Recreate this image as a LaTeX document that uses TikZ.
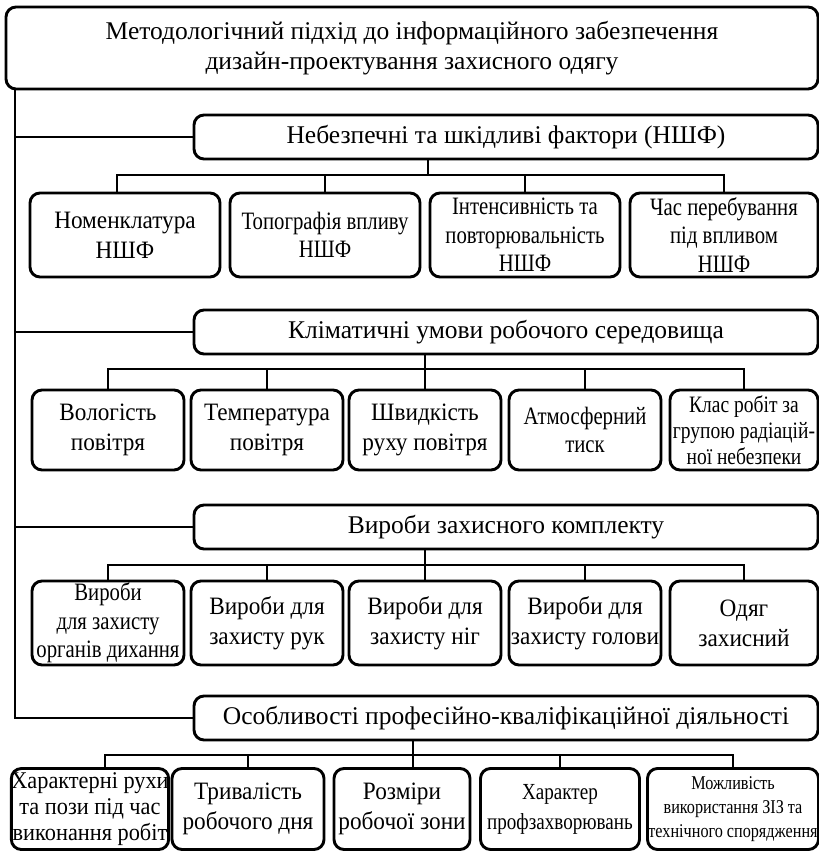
\documentclass[tikz,border=0pt]{standalone}
\usepackage{fontspec}
\setmainfont{Liberation Serif}
\newfontfamily\leaffont{Liberation Serif}[FakeStretch=0.93]
\newfontfamily\narrowfont{Liberation Serif}[FakeStretch=0.83]
\begin{document}
\begin{tikzpicture}[x=1pt,y=-1pt,
  box/.style={draw,rounded corners=10pt,line width=2.9pt,align=center,inner sep=0pt,
    font=\leaffont\fontsize{25}{30}\selectfont},
  head/.style={box,minimum width=624pt,minimum height=44pt,font=\fontsize{25.5}{30}\selectfont},
  row1/.style={box,minimum width=190pt,minimum height=84pt},
  row2/.style={box,minimum width=152pt,minimum height=80pt},
  row3/.style={box,minimum width=152pt,minimum height=84pt},
  row4/.style={box,minimum height=81pt},
  narrow/.style={font=\narrowfont\fontsize{25}{28.5}\selectfont},
  wire/.style={line width=2.9pt}]
  \useasboundingbox (0,0) rectangle (819,852);
  \node[box,minimum width=812pt,minimum height=82pt,font=\fontsize{25.5}{30}\selectfont] (top) at (412,48)
    {Методологічний підхід до інформаційного забезпечення\\дизайн-проектування захисного одягу};
  % headers
  \node[head] (h1) at (506,137) {Небезпечні та шкідливі фактори (НШФ)};
  \node[head] (h2) at (506,332) {Кліматичні умови робочого середовища};
  \node[head] (h3) at (506,527) {Вироби захисного комплекту};
  \node[head] (h4) at (506,718) {Особливості професійно-кваліфікаційної діяльності};
  % row 1
  \node[row1] (a1) at (125,235) {Номенклатура\\НШФ};
  \node[row1,narrow] (a2) at (325,235) {Топографія впливу\\НШФ};
  \node[row1,narrow] (a3) at (525,235) {Інтенсивність та\\повторювальність\\НШФ};
  \node[row1,minimum width=188pt,narrow] (a4) at (724,235) {Час перебування\\під впливом\\НШФ};
  % row 2
  \node[row2] (b1) at (108,430) {Вологість\\повітря};
  \node[row2] (b2) at (267,430) {Температура\\повітря};
  \node[row2] (b3) at (425,430) {Швидкість\\руху повітря};
  \node[row2,narrow] (b4) at (585,430) {Атмосферний\\тиск};
  \node[row2,minimum width=148pt,font=\narrowfont\fontsize{23.5}{26}\selectfont] (b5) at (744,430)
    {Клас робіт за\\групою радіацій-\\ної небезпеки};
  % row 3
  \node[row3,narrow] (c1) at (108,623) {Вироби\\для захисту\\органів дихання};
  \node[row3] (c2) at (267,623) {Вироби для\\захисту рук};
  \node[row3] (c3) at (425,623) {Вироби для\\захисту ніг};
  \node[row3] (c4) at (585,623) {Вироби для\\захисту голови};
  \node[row3,minimum width=148pt] (c5) at (744,623) {Одяг\\захисний};
  % row 4
  \node[row4,minimum width=154pt,font=\leaffont\fontsize{24}{26}\selectfont] (d1) at (90,809)
    {Характерні рухи\\та пози під час\\виконання робіт};
  \node[row4,minimum width=152pt] (d2) at (248,809) {Тривалість\\робочого дня};
  \node[row4,minimum width=136pt] (d3) at (402,809) {Розміри\\робочої зони};
  \node[row4,minimum width=159pt,font=\narrowfont\fontsize{23}{30}\selectfont] (d4) at (560,809)
    {Характер\\профзахворювань};
  \node[row4,minimum width=171pt,font=\narrowfont\fontsize{19.5}{24}\selectfont] (d5) at (733,809)
    {Можливість\\використання ЗІЗ та\\технічного спорядження};
  % trunk
  \coordinate (trunk) at (15,0);
  \draw[wire] (trunk |- top.south) |- (h4.west);
  \foreach \h in {h1,h2,h3} \draw[wire] (trunk |- \h.west) -- (\h.west);
  % buses
  \coordinate (bus1) at (428,175);
  \draw[wire] (h1.south -| bus1) -- (bus1);
  \draw[wire] ([xshift=-8pt]a1.north) |- (bus1) -| (a4.north);
  \foreach \n in {a2,a3} \draw[wire] (\n.north) -- (\n.north |- bus1);
  \coordinate (bus2) at (0,369);
  \draw[wire] (h2.south -| b3.north) -- (b3.north);
  \draw[wire] (b1.north) |- (bus2 -| b5.north) -- (b5.north);
  \foreach \n in {b2,b4} \draw[wire] (\n.north) -- (\n.north |- bus2);
  \coordinate (bus3) at (0,565);
  \draw[wire] (h3.south -| c3.north) -- (c3.north);
  \draw[wire] (c1.north) |- (bus3 -| c5.north) -- (c5.north);
  \foreach \n in {c2,c4} \draw[wire] (\n.north) -- (\n.north |- bus3);
  \coordinate (bus4) at (0,755);
  \coordinate (drop4) at ([xshift=11pt]d3.north);
  \draw[wire] (h4.south -| drop4) -- (drop4);
  \draw[wire] ([xshift=15pt]d1.north) |- (bus4 -| d5.north) -- (d5.north);
  \foreach \n in {d2,d4} \draw[wire] (\n.north) -- (\n.north |- bus4);
\end{tikzpicture}
\end{document}
